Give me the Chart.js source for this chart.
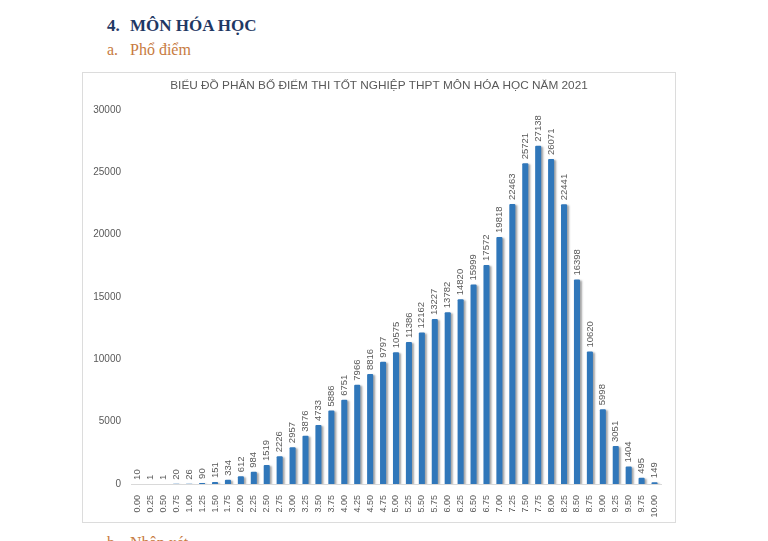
<!DOCTYPE html>
<html lang="vi">
<head>
<meta charset="UTF-8" />
<title>Phổ điểm Hóa học 2021</title>
<script src="https://cdn.jsdelivr.net/npm/chart.js@4.4.1/dist/chart.umd.min.js"></script>
<style>
  html, body { margin: 0; padding: 0; background: #fff; }
  body { width: 768px; height: 541px; position: relative; overflow: hidden; }
  .h { position: absolute; left: 107px; font-family: "Liberation Serif", serif; white-space: nowrap; }
  .h span.n { display: inline-block; width: 23px; }
  #h1 { top: 16px; font-size: 17px; font-weight: bold; color: #1f3864; }
  #h2 { top: 41px; font-size: 16px; color: #c77b3f; }
  #h3 { top: 534px; font-size: 16px; color: #c77b3f; }
  #box { position: absolute; left: 82px; top: 72px; width: 592px; height: 449px; border: 1px solid #dcdcdc; }
</style>
</head>
<body>
<div class="h" id="h1"><span class="n">4.</span>MÔN HÓA HỌC</div>
<div class="h" id="h2"><span class="n">a.</span>Phổ điểm</div>
<div class="h" id="h3"><span class="n">b.</span>Nhận xét</div>
<div id="box"><canvas id="chart" width="592" height="449"></canvas></div>

<script>
const chartTitle = "BIỂU ĐỒ PHÂN BỐ ĐIỂM THI TỐT NGHIỆP THPT MÔN HÓA HỌC NĂM 2021";

const scores = [
  "0.00", "0.25", "0.50", "0.75", "1.00", "1.25", "1.50", "1.75", "2.00", "2.25",
  "2.50", "2.75", "3.00", "3.25", "3.50", "3.75", "4.00", "4.25", "4.50", "4.75",
  "5.00", "5.25", "5.50", "5.75", "6.00", "6.25", "6.50", "6.75", "7.00", "7.25",
  "7.50", "7.75", "8.00", "8.25", "8.50", "8.75", "9.00", "9.25", "9.50", "9.75",
  "10.00"
];

const counts = [
  10, 1, 1, 20, 26, 90, 151, 334, 612, 984,
  1519, 2226, 2957, 3876, 4733, 5886, 6751, 7966, 8816, 9797,
  10575, 11386, 12162, 13227, 13782, 14820, 15999, 17572, 19818, 22463,
  25721, 27138, 26071, 22441, 16398, 10620, 5998, 3051, 1404, 495,
  149
];

const yTicks = [0, 5000, 10000, 15000, 20000, 25000, 30000];

const FONT = "'Liberation Sans', Arial, sans-serif";
const GREY = "#595959";

// tieu de can giua ca khung (khong phai vung ve)
const boxTitle = {
  id: "boxTitle",
  afterDraw(chart) {
    const ctx = chart.ctx;
    ctx.save();
    ctx.font = "11.8px " + FONT;
    ctx.fillStyle = GREY;
    ctx.textAlign = "center";
    ctx.textBaseline = "middle";
    ctx.fillText(chartTitle, chart.width / 2, 13);
    ctx.restore();
  }
};

// bong do nhe ben phai cot, giong Excel
const barShadow = {
  id: "barShadow",
  beforeDatasetsDraw(chart) {
    const ctx = chart.ctx;
    ctx.save();
    ctx.shadowColor = "rgba(0,0,0,0.35)";
    ctx.shadowOffsetX = 2;
    ctx.shadowOffsetY = 1;
    ctx.shadowBlur = 2;
  },
  afterDatasetsDraw(chart) {
    chart.ctx.restore();
  }
};

// nhan so luong xoay doc tren moi cot
const barLabels = {
  id: "barLabels",
  afterDatasetsDraw(chart) {
    const ctx = chart.ctx;
    const meta = chart.getDatasetMeta(0);
    ctx.save();
    ctx.font = "9.5px " + FONT;
    ctx.fillStyle = GREY;
    ctx.textAlign = "left";
    ctx.textBaseline = "middle";
    meta.data.forEach((bar, i) => {
      ctx.save();
      ctx.translate(bar.x, bar.y - 4);
      ctx.rotate(-Math.PI / 2);
      ctx.fillText(String(counts[i]), 0, 0);
      ctx.restore();
    });
    ctx.restore();
  }
};

new Chart(document.getElementById("chart").getContext("2d"), {
  type: "bar",
  data: {
    labels: scores,
    datasets: [{
      data: counts,
      backgroundColor: "#3077ba",
      borderRadius: 1,
      borderSkipped: "bottom",
      categoryPercentage: 1,
      barPercentage: 0.47
    }]
  },
  options: {
    responsive: false,
    animation: false,
    devicePixelRatio: 1,
    layout: { padding: { left: 0, right: 14, top: 37, bottom: 0 } },
    plugins: {
      legend: { display: false },
      tooltip: { enabled: false },
      title: { display: false }
    },
    scales: {
      x: {
        grid: { display: false },
        border: { display: true, color: "#d9d9d9" },
        ticks: {
          color: GREY,
          font: { family: FONT, size: 9 },
          minRotation: 90,
          maxRotation: 90,
          autoSkip: false,
          padding: 3
        },
        afterFit(scale) { scale.height = 38; }
      },
      y: {
        min: 0,
        max: 30000,
        afterBuildTicks(scale) { scale.ticks = yTicks.map(v => ({ value: v })); },
        grid: { display: false, drawTicks: false },
        border: { display: false },
        ticks: {
          color: GREY,
          font: { family: FONT, size: 10 },
          padding: 10,
          callback: v => String(v)
        },
        afterFit(scale) { scale.width = 48; }
      }
    }
  },
  plugins: [barShadow, barLabels, boxTitle]
});
</script>
</body>
</html>
